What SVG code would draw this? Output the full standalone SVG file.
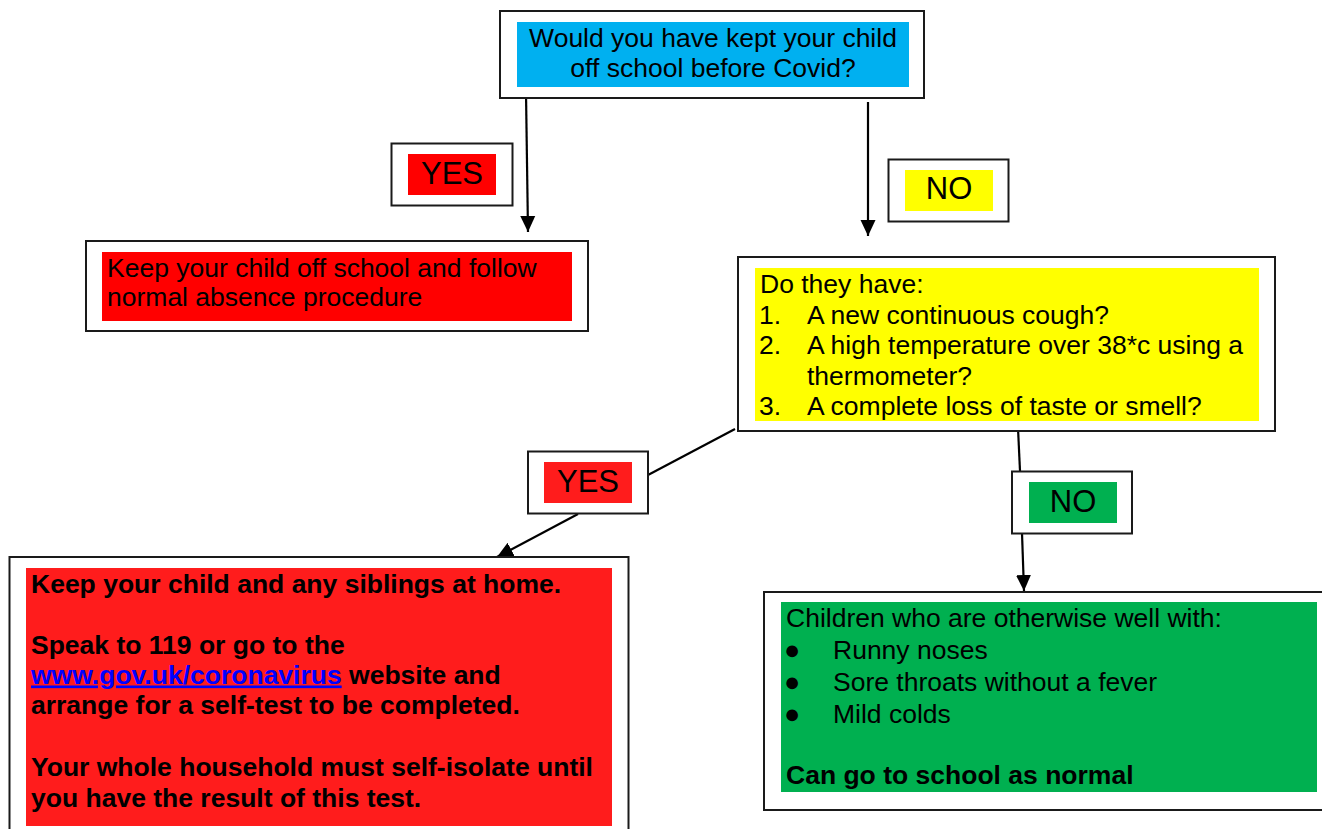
<svg xmlns="http://www.w3.org/2000/svg" width="1322" height="829" viewBox="0 0 1322 829">
<defs>
<style>
.frame{fill:#fff;stroke:#1a1a1a;stroke-width:2}
.t{font-family:"Liberation Sans",Arial,sans-serif;font-size:26.5px;fill:#000}
.b{font-weight:bold}
.bul{font-size:27px}
.lbl{font-family:"Liberation Sans",Arial,sans-serif;font-size:31px;fill:#000;text-anchor:middle}
.link{fill:#0000ff;text-decoration:underline}
.conn{stroke:#000;stroke-width:2.2;fill:none}
</style>
<marker id="arr" markerUnits="userSpaceOnUse" markerWidth="17" markerHeight="17" viewBox="0 0 17 17" refX="16" refY="8.5" orient="auto">
<path d="M0,1 L16,8.5 L0,16 Z" fill="#000"/>
</marker>
</defs>
<rect width="1322" height="829" fill="#fff"/>

<g id="connectors">
<line class="conn" x1="526" y1="93" x2="528" y2="232" marker-end="url(#arr)"/>
<line class="conn" x1="868" y1="102" x2="868" y2="236" marker-end="url(#arr)"/>
<line class="conn" x1="735" y1="429" x2="648" y2="475"/>
<line class="conn" x1="578" y1="514" x2="497" y2="557" marker-end="url(#arr)"/>
<line class="conn" x1="1018" y1="428" x2="1020" y2="471"/>
<line class="conn" x1="1022" y1="533" x2="1024" y2="591" marker-end="url(#arr)"/>
</g>

<g id="q1">
<rect class="frame" x="500" y="11" width="424" height="87"/>
<rect x="517" y="22" width="392" height="65" fill="#00b0f0"/>
<text class="t" x="713" y="47" text-anchor="middle">Would you have kept your child</text>
<text class="t" x="713" y="77" text-anchor="middle">off school before Covid?</text>
</g>

<g id="yes1">
<rect class="frame" x="391.5" y="143.5" width="121" height="62"/>
<rect x="408" y="154" width="88" height="41" fill="#ff0000"/>
<text class="lbl" x="452" y="184">YES</text>
</g>

<g id="no1">
<rect class="frame" x="888.5" y="159.5" width="120" height="62"/>
<rect x="905" y="170" width="88" height="41" fill="#ffff00"/>
<text class="lbl" x="949" y="199">NO</text>
</g>

<g id="absent">
<rect class="frame" x="86" y="241" width="502" height="90"/>
<rect x="102" y="252" width="470" height="69" fill="#ff0000"/>
<text class="t" x="107" y="277">Keep your child off school and follow</text>
<text class="t" x="107" y="306">normal absence procedure</text>
</g>

<g id="q2">
<rect class="frame" x="738" y="257" width="537" height="174"/>
<rect x="755" y="268" width="504" height="153" fill="#ffff00"/>
<text class="t" x="760" y="293">Do they have:</text>
<text class="t" x="759" y="323.5">1.</text>
<text class="t" x="807" y="323.5">A new continuous cough?</text>
<text class="t" x="759" y="354">2.</text>
<text class="t" x="807" y="354">A high temperature over 38*c using a</text>
<text class="t" x="807" y="384.5">thermometer?</text>
<text class="t" x="759" y="415">3.</text>
<text class="t" x="807" y="415">A complete loss of taste or smell?</text>
</g>

<g id="yes2">
<rect class="frame" x="528" y="451.5" width="120" height="62"/>
<rect x="544" y="462" width="88" height="41" fill="#ff1c1c"/>
<text class="lbl" x="588" y="492">YES</text>
</g>

<g id="no2">
<rect class="frame" x="1012" y="471.5" width="120" height="62"/>
<rect x="1029" y="482" width="88" height="41" fill="#00b050"/>
<text class="lbl" x="1073" y="512">NO</text>
</g>

<g id="isolate">
<rect class="frame" x="9.5" y="557" width="619" height="290"/>
<rect x="26" y="568" width="586" height="258" fill="#ff1c1c"/>
<text class="t b" x="31" y="593">Keep your child and any siblings at home.</text>
<text class="t b" x="31" y="653.5">Speak to 119 or go to the</text>
<text class="t b" x="31" y="683.5"><tspan class="link">www.gov.uk/coronavirus</tspan> website and</text>
<text class="t b" x="31" y="714">arrange for a self-test to be completed.</text>
<text class="t b" x="31" y="776">Your whole household must self-isolate until</text>
<text class="t b" x="31" y="806.5">you have the result of this test.</text>
</g>

<g id="school">
<rect class="frame" x="764" y="592" width="570" height="218"/>
<rect x="781" y="602" width="536" height="190" fill="#00b050"/>
<text class="t" x="786" y="627">Children who are otherwise well with:</text>
<text class="t"><tspan class="bul" x="784" y="659">●</tspan><tspan x="833" y="659">Runny noses</tspan></text>
<text class="t"><tspan class="bul" x="784" y="691">●</tspan><tspan x="833" y="691">Sore throats without a fever</tspan></text>
<text class="t"><tspan class="bul" x="784" y="723">●</tspan><tspan x="833" y="723">Mild colds</tspan></text>
<text class="t b" x="786" y="784">Can go to school as normal</text>
</g>
</svg>
